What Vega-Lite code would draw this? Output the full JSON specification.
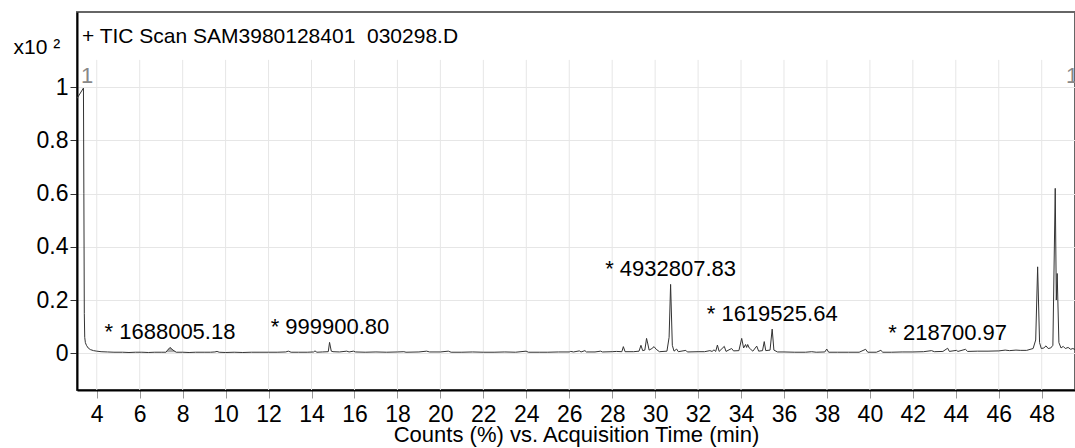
{
  "$schema": "https://vega.github.io/schema/vega-lite/v6.json",
  "width": 998,
  "height": 378,
  "autosize": {"type": "none"},
  "padding": {"left": 77, "top": 12, "right": 0, "bottom": 58},
  "background": "white",
  "config": {
    "font": "Liberation Sans",
    "view": {"stroke": "#666666", "strokeWidth": 2}
  },
  "datasets": {
    "tic": [
      {"t": 3.08, "v": 0.958}, {"t": 3.38, "v": 0.997}, {"t": 3.4, "v": 0.6}, {"t": 3.42, "v": 0.15},
      {"t": 3.44, "v": 0.06}, {"t": 3.47, "v": 0.04}, {"t": 3.52, "v": 0.03}, {"t": 3.6, "v": 0.02},
      {"t": 3.7, "v": 0.014}, {"t": 3.85, "v": 0.01}, {"t": 4.0, "v": 0.008}, {"t": 4.2, "v": 0.006},
      {"t": 4.5, "v": 0.005}, {"t": 4.8, "v": 0.004}, {"t": 5.2, "v": 0.004}, {"t": 5.5, "v": 0.003},
      {"t": 5.8, "v": 0.004}, {"t": 6.1, "v": 0.004}, {"t": 6.4, "v": 0.003}, {"t": 6.7, "v": 0.004},
      {"t": 7.0, "v": 0.004}, {"t": 7.22, "v": 0.004}, {"t": 7.3, "v": 0.012}, {"t": 7.41, "v": 0.022},
      {"t": 7.55, "v": 0.012}, {"t": 7.7, "v": 0.004}, {"t": 8.0, "v": 0.004}, {"t": 8.3, "v": 0.003},
      {"t": 8.6, "v": 0.004}, {"t": 9.0, "v": 0.004}, {"t": 9.3, "v": 0.004}, {"t": 9.5, "v": 0.005},
      {"t": 9.6, "v": 0.007}, {"t": 9.7, "v": 0.004}, {"t": 10.0, "v": 0.003}, {"t": 10.4, "v": 0.004},
      {"t": 10.8, "v": 0.003}, {"t": 11.2, "v": 0.004}, {"t": 11.6, "v": 0.004}, {"t": 12.0, "v": 0.004},
      {"t": 12.4, "v": 0.004}, {"t": 12.8, "v": 0.005}, {"t": 12.92, "v": 0.008}, {"t": 13.05, "v": 0.004},
      {"t": 13.4, "v": 0.004}, {"t": 13.8, "v": 0.004}, {"t": 14.1, "v": 0.005}, {"t": 14.16, "v": 0.009},
      {"t": 14.25, "v": 0.004}, {"t": 14.5, "v": 0.005}, {"t": 14.78, "v": 0.006}, {"t": 14.84, "v": 0.041},
      {"t": 14.92, "v": 0.008}, {"t": 15.0, "v": 0.006}, {"t": 15.3, "v": 0.005}, {"t": 15.64, "v": 0.008},
      {"t": 15.75, "v": 0.005}, {"t": 15.95, "v": 0.008}, {"t": 16.05, "v": 0.005}, {"t": 16.5, "v": 0.004},
      {"t": 17.0, "v": 0.005}, {"t": 17.5, "v": 0.004}, {"t": 18.0, "v": 0.005}, {"t": 18.3, "v": 0.006},
      {"t": 18.4, "v": 0.004}, {"t": 19.0, "v": 0.005}, {"t": 19.36, "v": 0.008}, {"t": 19.5, "v": 0.005},
      {"t": 20.0, "v": 0.005}, {"t": 20.37, "v": 0.008}, {"t": 20.5, "v": 0.004}, {"t": 21.0, "v": 0.004},
      {"t": 21.5, "v": 0.005}, {"t": 22.0, "v": 0.004}, {"t": 22.5, "v": 0.004}, {"t": 23.0, "v": 0.005},
      {"t": 23.5, "v": 0.004}, {"t": 23.99, "v": 0.008}, {"t": 24.1, "v": 0.004}, {"t": 24.6, "v": 0.004},
      {"t": 25.0, "v": 0.004}, {"t": 25.5, "v": 0.005}, {"t": 26.0, "v": 0.005}, {"t": 26.07, "v": 0.007},
      {"t": 26.2, "v": 0.005}, {"t": 26.47, "v": 0.009}, {"t": 26.55, "v": 0.005}, {"t": 26.73, "v": 0.01},
      {"t": 26.8, "v": 0.005}, {"t": 27.2, "v": 0.005}, {"t": 27.46, "v": 0.008}, {"t": 27.55, "v": 0.005},
      {"t": 28.0, "v": 0.006}, {"t": 28.2, "v": 0.007}, {"t": 28.45, "v": 0.006}, {"t": 28.52, "v": 0.025},
      {"t": 28.6, "v": 0.006}, {"t": 29.0, "v": 0.006}, {"t": 29.25, "v": 0.008}, {"t": 29.34, "v": 0.03},
      {"t": 29.42, "v": 0.01}, {"t": 29.52, "v": 0.012}, {"t": 29.6, "v": 0.056}, {"t": 29.66, "v": 0.035},
      {"t": 29.72, "v": 0.012}, {"t": 29.85, "v": 0.018}, {"t": 29.95, "v": 0.025}, {"t": 30.05, "v": 0.015},
      {"t": 30.2, "v": 0.006}, {"t": 30.55, "v": 0.008}, {"t": 30.65, "v": 0.06}, {"t": 30.72, "v": 0.259},
      {"t": 30.8, "v": 0.03}, {"t": 30.88, "v": 0.008}, {"t": 31.0, "v": 0.016}, {"t": 31.08, "v": 0.006},
      {"t": 31.43, "v": 0.011}, {"t": 31.5, "v": 0.005}, {"t": 32.0, "v": 0.006}, {"t": 32.3, "v": 0.006},
      {"t": 32.55, "v": 0.01}, {"t": 32.65, "v": 0.007}, {"t": 32.74, "v": 0.013}, {"t": 32.82, "v": 0.007},
      {"t": 32.9, "v": 0.031}, {"t": 32.98, "v": 0.007}, {"t": 33.22, "v": 0.026}, {"t": 33.3, "v": 0.007},
      {"t": 33.56, "v": 0.018}, {"t": 33.65, "v": 0.009}, {"t": 33.9, "v": 0.01}, {"t": 34.03, "v": 0.056},
      {"t": 34.12, "v": 0.02}, {"t": 34.21, "v": 0.033}, {"t": 34.26, "v": 0.022}, {"t": 34.31, "v": 0.033},
      {"t": 34.38, "v": 0.02}, {"t": 34.45, "v": 0.015}, {"t": 34.55, "v": 0.008}, {"t": 34.73, "v": 0.027},
      {"t": 34.82, "v": 0.008}, {"t": 35.0, "v": 0.01}, {"t": 35.08, "v": 0.044}, {"t": 35.15, "v": 0.01},
      {"t": 35.35, "v": 0.012}, {"t": 35.45, "v": 0.091}, {"t": 35.53, "v": 0.012}, {"t": 35.7, "v": 0.005},
      {"t": 36.0, "v": 0.005}, {"t": 36.5, "v": 0.004}, {"t": 37.0, "v": 0.004}, {"t": 37.29, "v": 0.006},
      {"t": 37.5, "v": 0.004}, {"t": 37.9, "v": 0.005}, {"t": 37.99, "v": 0.016}, {"t": 38.08, "v": 0.004},
      {"t": 38.5, "v": 0.004}, {"t": 39.0, "v": 0.004}, {"t": 39.5, "v": 0.004}, {"t": 39.8, "v": 0.015},
      {"t": 39.9, "v": 0.004}, {"t": 40.3, "v": 0.004}, {"t": 40.51, "v": 0.011}, {"t": 40.6, "v": 0.004},
      {"t": 41.0, "v": 0.004}, {"t": 41.5, "v": 0.005}, {"t": 42.0, "v": 0.005}, {"t": 42.5, "v": 0.006},
      {"t": 42.87, "v": 0.01}, {"t": 43.0, "v": 0.006}, {"t": 43.4, "v": 0.007}, {"t": 43.62, "v": 0.019},
      {"t": 43.7, "v": 0.007}, {"t": 44.03, "v": 0.011}, {"t": 44.1, "v": 0.007}, {"t": 44.45, "v": 0.015},
      {"t": 44.55, "v": 0.007}, {"t": 45.0, "v": 0.008}, {"t": 45.5, "v": 0.008}, {"t": 46.0, "v": 0.009},
      {"t": 46.3, "v": 0.012}, {"t": 46.5, "v": 0.01}, {"t": 46.8, "v": 0.012}, {"t": 47.0, "v": 0.011},
      {"t": 47.3, "v": 0.011}, {"t": 47.6, "v": 0.018}, {"t": 47.72, "v": 0.05}, {"t": 47.81, "v": 0.325},
      {"t": 47.9, "v": 0.04}, {"t": 47.98, "v": 0.018}, {"t": 48.1, "v": 0.02}, {"t": 48.2, "v": 0.028},
      {"t": 48.3, "v": 0.018}, {"t": 48.42, "v": 0.02}, {"t": 48.52, "v": 0.03}, {"t": 48.63, "v": 0.62},
      {"t": 48.68, "v": 0.2}, {"t": 48.72, "v": 0.3}, {"t": 48.8, "v": 0.04}, {"t": 48.9, "v": 0.02},
      {"t": 49.0, "v": 0.026}, {"t": 49.1, "v": 0.018}, {"t": 49.23, "v": 0.022}, {"t": 49.35, "v": 0.015},
      {"t": 49.45, "v": 0.018}, {"t": 49.55, "v": 0.014}
    ],
    "shade": [
      {"t": 7.22, "v": 0.004, "base": 0.004}, {"t": 7.3, "v": 0.012, "base": 0.004},
      {"t": 7.41, "v": 0.022, "base": 0.004}, {"t": 7.55, "v": 0.012, "base": 0.004},
      {"t": 7.7, "v": 0.004, "base": 0.004}
    ],
    "grid": [
      {"t": 4}, {"t": 6}, {"t": 8}, {"t": 10}, {"t": 12}, {"t": 14}, {"t": 16}, {"t": 18},
      {"t": 20}, {"t": 22}, {"t": 24}, {"t": 26}, {"t": 28}, {"t": 30}, {"t": 32}, {"t": 34},
      {"t": 36}, {"t": 38}, {"t": 40}, {"t": 42}, {"t": 44}, {"t": 46}, {"t": 48}
    ],
    "peaks": [
      {"t": 7.41, "v": 0.022, "label": "* 1688005.18"},
      {"t": 14.86, "v": 0.041, "label": "* 999900.80"},
      {"t": 30.72, "v": 0.259, "label": "* 4932807.83"},
      {"t": 35.45, "v": 0.091, "label": "* 1619525.64"},
      {"t": 43.62, "v": 0.019, "label": "* 218700.97"}
    ],
    "scans": [
      {"t": 3.55, "v": 1.044, "label": "1"},
      {"t": 49.42, "v": 1.044, "label": "1"}
    ],
    "header": [
      {"label": "+ TIC Scan SAM3980128401\u00a0 030298.D"}
    ]
  },
  "layer": [
    {
      "data": {"name": "grid"},
      "mark": {"type": "rule", "color": "#e6e6e6", "strokeWidth": 1},
      "encoding": {
        "x": {"field": "t", "type": "quantitative"},
        "y": {"datum": -0.138, "type": "quantitative"},
        "y2": {"datum": 1.103}
      }
    },
    {
      "data": {"name": "shade"},
      "mark": {"type": "area", "color": "#aaaaaa", "opacity": 1},
      "encoding": {
        "x": {"field": "t", "type": "quantitative"},
        "y": {"field": "v", "type": "quantitative"},
        "y2": {"field": "base"}
      }
    },
    {
      "data": {"name": "tic"},
      "mark": {"type": "line", "color": "#333333", "strokeWidth": 1},
      "encoding": {
        "x": {
          "field": "t",
          "type": "quantitative",
          "scale": {"domain": [3.08, 49.55], "nice": false, "zero": false},
          "axis": {
            "values": [4, 6, 8, 10, 12, 14, 16, 18, 20, 22, 24, 26, 28, 30, 32, 34, 36, 38, 40, 42, 44, 46, 48],
            "grid": false,
            "domainColor": "black",
            "domainWidth": 2,
            "tickColor": "#999999",
            "tickSize": 8,
            "labelFontSize": 23,
            "labelPadding": 5,
            "labelColor": "black",
            "labelFlush": false,
            "labelOverlap": false,
            "title": "Counts (%) vs. Acquisition Time (min)",
            "titleFontSize": 22,
            "titleFontWeight": "normal",
            "titleColor": "black",
            "titlePadding": -2
          }
        },
        "y": {
          "field": "v",
          "type": "quantitative",
          "scale": {"domain": [-0.138, 1.283], "nice": false, "zero": false},
          "axis": {
            "values": [0, 0.2, 0.4, 0.6, 0.8, 1],
            "format": "~g",
            "grid": true,
            "gridColor": "#e6e6e6",
            "gridWidth": 1,
            "domainColor": "black",
            "domainWidth": 2,
            "tickColor": "#333333",
            "tickSize": 7,
            "labelFontSize": 23,
            "labelColor": "black",
            "labelPadding": 2,
            "labelFlush": false,
            "labelOverlap": false,
            "title": "x10 ²",
            "titleAngle": 0,
            "titleAlign": "left",
            "titleBaseline": "alphabetic",
            "titleX": -64,
            "titleY": 41,
            "titleFontSize": 21,
            "titleFontWeight": "normal",
            "titleColor": "black"
          }
        }
      }
    },
    {
      "data": {"name": "peaks"},
      "mark": {"type": "text", "align": "center", "baseline": "alphabetic", "dy": -8, "fontSize": 22, "color": "black"},
      "encoding": {
        "x": {"field": "t", "type": "quantitative"},
        "y": {"field": "v", "type": "quantitative"},
        "text": {"field": "label"}
      }
    },
    {
      "data": {"name": "scans"},
      "mark": {"type": "text", "align": "center", "baseline": "middle", "fontSize": 22, "color": "#888888"},
      "encoding": {
        "x": {"field": "t", "type": "quantitative"},
        "y": {"field": "v", "type": "quantitative"},
        "text": {"field": "label"}
      }
    },
    {
      "data": {"name": "header"},
      "mark": {"type": "text", "align": "left", "baseline": "alphabetic", "fontSize": 21, "color": "black"},
      "encoding": {
        "x": {"datum": 3.31, "type": "quantitative"},
        "y": {"datum": 1.165, "type": "quantitative"},
        "text": {"field": "label"}
      }
    }
  ]
}
